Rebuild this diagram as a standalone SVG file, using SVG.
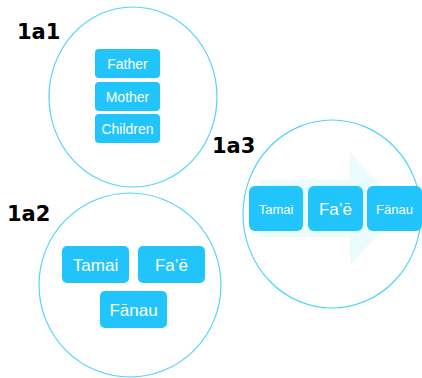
<svg xmlns="http://www.w3.org/2000/svg" width="422" height="378" viewBox="0 0 422 378">
  <style>
    .ring { fill: none; stroke: #55d3f9; stroke-width: 1.2; }
    .box { fill: #22c5fb; }
    .t { fill: #ffffff; font-family: "Liberation Sans", "DejaVu Sans", sans-serif; text-anchor: middle; }
    .tag { fill: #000000; font-family: "DejaVu Sans", sans-serif; font-weight: 900; font-size: 21px; }
  </style>

  <rect width="422" height="378" fill="#ffffff"/>

  <!-- faint arrow behind the third group -->
  <polygon points="260,180 350,180 350,152 402,209 350,265 350,237 260,237" fill="#ebfcff"/>

  <g id="group-1a1">
    <ellipse class="ring" cx="133" cy="97" rx="84" ry="90"/>
    <text class="tag" x="17" y="39">1a1</text>
    <g id="node-father">
      <rect class="box" x="95" y="49" width="65" height="29" rx="4"/>
      <text class="t" x="127.5" y="68.5" font-size="14">Father</text>
    </g>
    <g id="node-mother">
      <rect class="box" x="95" y="82" width="65" height="29" rx="4"/>
      <text class="t" x="127.5" y="101.5" font-size="14">Mother</text>
    </g>
    <g id="node-children">
      <rect class="box" x="95" y="114" width="65" height="29" rx="4"/>
      <text class="t" x="127.5" y="133.5" font-size="14">Children</text>
    </g>
  </g>

  <g id="group-1a2">
    <ellipse class="ring" cx="130" cy="285" rx="91" ry="92"/>
    <text class="tag" x="7" y="221">1a2</text>
    <g id="node-tamai-2">
      <rect class="box" x="62" y="246" width="67" height="37" rx="5"/>
      <text class="t" x="95.5" y="270.5" font-size="17">Tamai</text>
    </g>
    <g id="node-fae-2">
      <rect class="box" x="138" y="246" width="67" height="37" rx="5"/>
      <text class="t" x="171.5" y="270.5" font-size="17">Fa’ē</text>
    </g>
    <g id="node-fanau-2">
      <rect class="box" x="100" y="291" width="67" height="37" rx="5"/>
      <text class="t" x="133.5" y="315.5" font-size="17">Fānau</text>
    </g>
  </g>

  <g id="group-1a3">
    <ellipse class="ring" cx="332" cy="214" rx="89" ry="94"/>
    <text class="tag" x="212" y="153">1a3</text>
    <g id="node-tamai-3">
      <rect class="box" x="249" y="186" width="54" height="45" rx="6"/>
      <text class="t" x="276" y="213.5" font-size="13">Tamai</text>
    </g>
    <g id="node-fae-3">
      <rect class="box" x="308" y="186" width="55" height="45" rx="6"/>
      <text class="t" x="335.5" y="214.5" font-size="17">Fa’ē</text>
    </g>
    <g id="node-fanau-3">
      <rect class="box" x="367" y="186" width="55" height="45" rx="6"/>
      <text class="t" x="394.5" y="213.5" font-size="13">Fānau</text>
    </g>
  </g>

  <g id="connectors"></g>
</svg>
